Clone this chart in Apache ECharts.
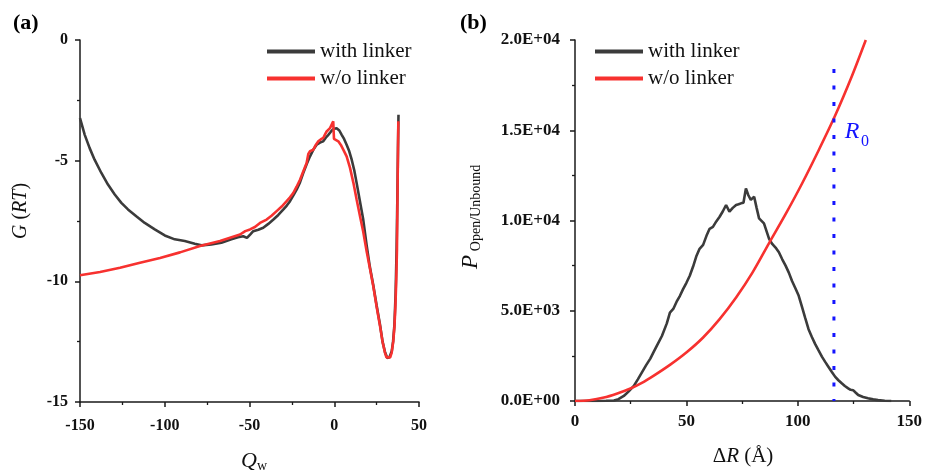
<!DOCTYPE html>
<html>
<head>
<meta charset="utf-8">
<script src="https://cdn.jsdelivr.net/npm/echarts@6/dist/echarts.min.js"></script>
<style>
  html, body { margin: 0; padding: 0; background: #fff; }
  #chart { width: 925px; height: 470px; }
</style>
</head>
<body>
<div id="chart"></div>
<script>
// ---- (a) free energy profile G(Q_w) ----
const qWith = [-150, -147.2, -144.3, -141.4, -137.4, -133.5, -129.5, -125.6, -121.7, -116.8,
  -111.8, -105.9, -100, -94.1, -88.2, -82.3, -78.4, -72.5, -66.6, -60.7,
  -56.8, -53.7, -51.5, -49.5, -47.8, -44.8, -41.9, -38.9, -35.9, -33,
  -30, -28, -26.1, -24.2, -22.2, -20.2, -18.3, -16.3, -14.3, -12.4,
  -10.4, -8.4, -6.5, -5, -3.5, -2, -0.6, 1.4, 3, 4.4,
  5.8, 7.3, 8.8, 10.3, 11.8, 13.2, 15.2, 17.1, 19.1, 21,
  23, 25, 27, 28.5, 30, 31.3, 32.5, 33.9, 34.7, 35.5,
  36.2, 36.8, 37.3, 37.6, 37.9];
const gWith = [-3.24, -3.93, -4.48, -4.96, -5.51, -5.99, -6.40, -6.75, -7.02, -7.30,
  -7.58, -7.85, -8.10, -8.26, -8.33, -8.44, -8.51, -8.47, -8.40, -8.26,
  -8.17, -8.13, -8.20, -8.05, -7.92, -7.86, -7.78, -7.62, -7.44, -7.25,
  -7.02, -6.86, -6.68, -6.45, -6.20, -5.90, -5.51, -5.15, -4.82, -4.55,
  -4.34, -4.25, -4.20, -4.05, -3.93, -3.80, -3.69, -3.66, -3.75, -3.93,
  -4.10, -4.34, -4.60, -4.96, -5.40, -5.92, -6.70, -7.44, -8.50, -9.40,
  -10.15, -11.0, -11.8, -12.5, -12.95, -13.18, -13.15, -12.9, -12.5, -11.8,
  -10.5, -8.6, -6.2, -4.5, -3.1];

const qWo = [-150, -138.2, -126.4, -114.6, -102.8, -91, -79.2, -67.4, -55.6, -52.5,
  -49.7, -46.8, -43.8, -39.9, -37, -34, -31, -28.1, -26.1, -24.2,
  -22.2, -20.2, -18.3, -16.3, -15.3, -14.3, -12.4, -10.9, -9.4, -8,
  -6.5, -5.5, -4.5, -2.5, -0.6, -0.15, 1, 2.4, 3.9, 5.4,
  7.3, 9.3, 11.3, 13.2, 15.2, 17.1, 19.1, 21, 23, 25,
  27, 28.5, 29.9, 30.8, 31.9, 33, 33.9, 34.8, 35.5, 36.1,
  36.6, 37, 37.4, 37.8];
const gWo = [-9.75, -9.61, -9.44, -9.23, -9.03, -8.80, -8.54, -8.33, -8.06, -7.92,
  -7.85, -7.75, -7.58, -7.44, -7.28, -7.09, -6.90, -6.68, -6.52, -6.34,
  -6.08, -5.79, -5.45, -5.10, -4.72, -4.61, -4.55, -4.35, -4.20, -4.12,
  -4.06, -3.92, -3.79, -3.65, -3.37, -4.10, -4.12, -4.20, -4.35, -4.55,
  -4.82, -5.30, -5.92, -6.61, -7.30, -7.95, -8.75, -9.45, -10.19, -11.05,
  -11.85, -12.5, -12.95, -13.15, -13.22, -13.15, -12.95, -12.5, -11.9, -11.0,
  -9.9, -8.68, -5.92, -3.37];

// ---- (b) P_Open/Unbound versus ΔR ----
const rWith = [0, 10, 14, 17.5, 19.5, 21.9, 24, 26.4, 28.2, 30.1,
  32, 33.8, 35.2, 36.7, 39, 41.2, 42.6, 44.1, 45.6, 47.1,
  48.5, 50, 51.5, 53, 54.4, 55.9, 57.5, 59, 60.4, 61.9,
  63.4, 64.9, 66.3, 67.8, 69.3, 70.8, 72.3, 73.4, 74.5, 75.6,
  76.7, 77.8, 78.9, 80.4, 81.5, 82.6, 84.8, 87.1, 88.5, 90,
  91.5, 93, 94.5, 96, 97.4, 98.9, 100.4, 101.9, 103.3, 104.8,
  106.3, 107.8, 109.3, 110.8, 112.2, 113.7, 115.2, 116.7, 118.2, 119.7,
  121.1, 122.6, 123.7, 124.8, 125.9, 127.1, 129.3, 131.5, 133.8, 136,
  139, 141.9];
const pWith = [0, 0, 10, 25, 100, 280, 520, 840, 1200, 1600,
  2000, 2350, 2690, 3050, 3600, 4300, 4900, 5100, 5500, 5830,
  6200, 6550, 6940, 7450, 8000, 8430, 8650, 9150, 9540, 9650,
  9950, 10210, 10500, 10860, 10490, 10700, 10860, 10900, 10950, 10980,
  11780, 11400, 11140, 11320, 10700, 10120, 9840, 8980, 8700, 8500,
  8240, 7850, 7500, 7100, 6650, 6250, 5830, 5200, 4600, 3980,
  3550, 3150, 2800, 2460, 2180, 1900, 1620, 1350, 1150, 980,
  830, 700, 620, 600, 470, 330, 220, 150, 90, 50,
  15, 0];

const rWo = [0, 6.5, 13, 19, 24.9, 30, 35.2, 42.6, 50.1, 57.5,
  64.9, 72.3, 79.7, 87.1, 94.5, 101.9, 109.3, 116.7, 124.1, 130.5];
const pWo = [0, 45, 190, 420, 690, 1000, 1390, 2000, 2700, 3520,
  4540, 5740, 7130, 8750, 10350, 12050, 13880, 15800, 17950, 20000];

// Förster radius marker
const r0 = 116.2;
const r0Top = 18400;

// tick label values
const ticksQ = [-150, -100, -50, 0, 50];
const ticksG = [-15, -10, -5, 0];
const ticksR = [0, 50, 100, 150];
const ticksP = [0, 5000, 10000, 15000, 20000];

const names = ['with linker', 'w/o linker'];

const zip = (xs, ys) => xs.map((x, i) => [x, ys[i]]);
const SERIF = '"Liberation Serif", "Times New Roman", serif';
const GRAY = '#3b3b3b';
const RED = '#f7312f';
const BLUE = '#1414ff';
const INK = '#1a1a1a';

function sci(v) {
  if (v === 0) return '0.0E+00';
  const e = Math.floor(Math.log10(v) + 1e-9);
  const m = v / Math.pow(10, e);
  return m.toFixed(1) + 'E+' + String(e).padStart(2, '0');
}

function axis(gridIndex, min, max, interval, ticks, opts) {
  return {
    type: 'value', gridIndex, min, max, interval,
    axisLine: { show: true, onZero: false, lineStyle: { color: INK, width: 1.5 } },
    axisTick: { show: true, inside: false, length: 5, lineStyle: { color: INK, width: 1.5 } },
    minorTick: { show: true, splitNumber: 2, length: 3, lineStyle: { color: INK, width: 1.3 } },
    splitLine: { show: false },
    minorSplitLine: { show: false },
    axisLabel: {
      color: '#111', fontFamily: SERIF, fontWeight: 'bold',
      fontSize: opts.size, margin: opts.margin,
      formatter: v => (ticks.indexOf(v) >= 0 ? (opts.fmt ? opts.fmt(v) : String(v)) : '')
    }
  };
}

function legendAt(left) {
  return {
    data: names, orient: 'vertical', left, top: 41, padding: 0,
    itemWidth: 48, itemHeight: 4, itemGap: 6,
    icon: 'rect',
    selectedMode: false,
    textStyle: { fontFamily: SERIF, fontSize: 21, color: '#111' }
  };
}

const chart = echarts.init(document.getElementById('chart'), null, { renderer: 'canvas' });

chart.setOption({
  animation: false,
  backgroundColor: '#fff',
  grid: [
    { left: 80, top: 40, width: 339, height: 362 },
    { left: 575, top: 40, width: 337, height: 361 }
  ],
  xAxis: [
    axis(0, -150, 50, 50, ticksQ, { size: 16, margin: 16 }),
    axis(1, 0, 150, 50, ticksR, { size: 17, margin: 12 })
  ],
  yAxis: [
    axis(0, -15, 0, 5, ticksG, { size: 16, margin: 12 }),
    axis(1, 0, 20000, 5000, ticksP, { size: 17, margin: 15, fmt: sci })
  ],
  legend: [legendAt(267), legendAt(595)],
  series: [
    {
      name: names[0], type: 'line', xAxisIndex: 0, yAxisIndex: 0,
      data: zip(qWith, gWith), symbol: 'none', z: 2,
      itemStyle: { color: GRAY }, lineStyle: { color: GRAY, width: 2.6 }
    },
    {
      name: names[1], type: 'line', xAxisIndex: 0, yAxisIndex: 0,
      data: zip(qWo, gWo), symbol: 'none', z: 3,
      itemStyle: { color: RED }, lineStyle: { color: RED, width: 2.6 }
    },
    {
      name: names[0], type: 'line', xAxisIndex: 1, yAxisIndex: 1,
      data: zip(rWith, pWith), symbol: 'none', z: 2,
      itemStyle: { color: GRAY }, lineStyle: { color: GRAY, width: 2.6 }
    },
    {
      name: names[1], type: 'line', xAxisIndex: 1, yAxisIndex: 1,
      data: zip(rWo, pWo), symbol: 'none', smooth: 0.3, z: 3,
      itemStyle: { color: RED }, lineStyle: { color: RED, width: 2.6 }
    },
    {
      name: 'R0', type: 'line', xAxisIndex: 1, yAxisIndex: 1,
      data: [[r0, r0Top], [r0, 0]], symbol: 'none', z: 4,
      lineStyle: { color: BLUE, width: 3, type: [4, 12.5] }
    }
  ],
  graphic: [
    { type: 'text', left: 13, top: 12, style: { text: '(a)', font: 'bold 22px ' + SERIF, fill: '#000' } },
    { type: 'text', left: 460, top: 12, style: { text: '(b)', font: 'bold 22px ' + SERIF, fill: '#000' } },
    {
      type: 'text', x: 21, y: 211, rotation: Math.PI / 2,
      style: {
        text: '{i|G} {n|(}{i|RT}{n|)}', textAlign: 'center', textVerticalAlign: 'middle',
        rich: {
          i: { fontFamily: SERIF, fontSize: 20, fontStyle: 'italic', fill: '#111' },
          n: { fontFamily: SERIF, fontSize: 20, fill: '#111' }
        },
        font: '20px ' + SERIF
      }
    },
    { type: 'text', x: 249, y: 461, style: { text: 'Q', font: 'italic 22px ' + SERIF, fill: '#111', textAlign: 'center', textVerticalAlign: 'middle' } },
    { type: 'text', x: 262, y: 466, style: { text: 'w', font: '14px ' + SERIF, fill: '#111', textAlign: 'center', textVerticalAlign: 'middle' } },
    {
      type: 'text', x: 743, y: 456,
      style: {
        text: '{n|Δ}{i|R}{n| (Å)}', textAlign: 'center', textVerticalAlign: 'middle',
        rich: {
          i: { fontFamily: SERIF, fontSize: 21, fontStyle: 'italic', fill: '#111' },
          n: { fontFamily: SERIF, fontSize: 21, fill: '#111' }
        },
        font: '21px ' + SERIF
      }
    },
    { type: 'text', x: 471, y: 262, rotation: Math.PI / 2, style: { text: 'P', font: 'italic 23px ' + SERIF, fill: '#111', textAlign: 'center', textVerticalAlign: 'middle' } },
    { type: 'text', x: 476, y: 208, rotation: Math.PI / 2, style: { text: 'Open/Unbound', font: '14px ' + SERIF, fill: '#111', textAlign: 'center', textVerticalAlign: 'middle' } },
    { type: 'text', x: 852, y: 132, style: { text: 'R', font: 'italic 24px ' + SERIF, fill: BLUE, textAlign: 'center', textVerticalAlign: 'middle' } },
    { type: 'text', x: 865, y: 142, style: { text: '0', font: '16px ' + SERIF, fill: BLUE, textAlign: 'center', textVerticalAlign: 'middle' } }
  ]
});
</script>
</body>
</html>
